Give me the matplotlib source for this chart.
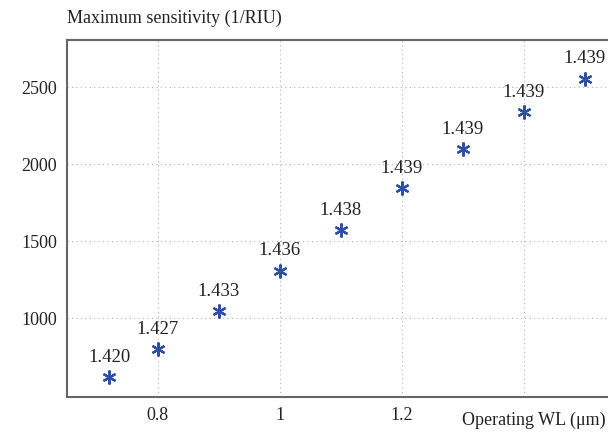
import matplotlib
matplotlib.use("Agg")
import matplotlib.pyplot as plt

plt.rcParams['font.family'] = ['Liberation Serif', 'DejaVu Serif']

# operating wavelength (um), max sensitivity (1/RIU), refractive index at that point
wl = [0.72, 0.8, 0.9, 1.0, 1.1, 1.2, 1.3, 1.4, 1.5]
sens = [620, 800, 1045, 1310, 1575, 1845, 2097, 2335, 2555]
n_labels = ["1.420", "1.427", "1.433", "1.436", "1.438", "1.439", "1.439", "1.439", "1.439"]

xticks = [0.8, 1.0, 1.2, 1.4]
xticklabels = ["0.8", "1", "1.2", ""]
yticks = [1000, 1500, 2000, 2500]

fig = plt.figure(figsize=(6.08, 4.34), dpi=100)
ax = fig.add_axes([67/608, 1 - 397/434, 1 - 67/608, (397 - 40)/434])

ax.plot(wl, sens, linestyle='none', marker=(6, 2, 0), markersize=10,
        markeredgewidth=1.6, color='#2e4fa3')

for x, y, s in zip(wl, sens, n_labels):
    ax.annotate(s, (x, y), xytext=(0, 8), textcoords='offset points',
                ha='center', va='bottom', fontsize=13.5, color='#222222')

ax.set_xlim(0.651, 1.538)
ax.set_ylim(490, 2805)
ax.set_xticks(xticks)
ax.set_xticklabels(xticklabels)
ax.set_yticks(yticks)
ax.tick_params(length=0, labelsize=13, colors='#222222', pad=7)

ax.grid(True, linestyle=(0, (1, 3)), color='#b0b0b0', linewidth=0.8)
for side in ['left', 'top', 'bottom']:
    ax.spines[side].set_color('#666666')
    ax.spines[side].set_linewidth(1.5)
ax.spines['right'].set_visible(False)

fig.text(67/608, 1 - 18/434, "Maximum sensitivity (1/RIU)", fontsize=13,
         ha='left', va='center', color='#222222')
fig.text(606/608, 1 - 420/434, "Operating WL (\u03bcm)", fontsize=13,
         ha='right', va='center', color='#222222')

fig.savefig('out.png', dpi=100)
